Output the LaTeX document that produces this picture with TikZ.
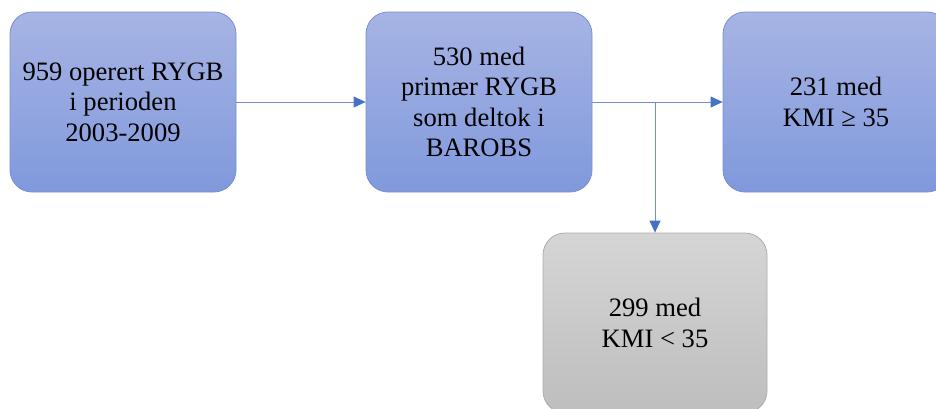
\documentclass[tikz,border=0pt]{standalone}
\usepackage{fontspec}
\setmainfont{Liberation Serif}
\usetikzlibrary{arrows.meta}
\definecolor{bluetop}{RGB}{167,180,228}
\definecolor{bluebot}{RGB}{128,153,220}
\definecolor{blueedge}{RGB}{118,144,214}
\definecolor{graytop}{RGB}{213,213,213}
\definecolor{graybot}{RGB}{190,190,190}
\definecolor{grayedge}{RGB}{172,172,172}
\definecolor{arrowblue}{RGB}{68,114,196}
\definecolor{lineblue}{RGB}{112,142,210}
\begin{document}
\begin{tikzpicture}[x=1pt,y=-1pt,
  box/.style={rounded corners=22pt, minimum width=226pt, minimum height=180pt,
    align=center, font=\fontsize{26.6}{30.5}\selectfont, inner sep=0pt, line width=0.8pt},
  bluebox/.style={box, draw=blueedge, top color=bluetop, bottom color=bluebot},
  graybox/.style={box, draw=grayedge, top color=graytop, bottom color=graybot},
  conn/.style={draw=lineblue, line width=1pt,
    -{Triangle[length=12pt,width=11pt,color=arrowblue]}}]
\useasboundingbox (0,0) rectangle (936,408);
\clip (0,0) rectangle (936,408);
\node[bluebox] (b1) at (123,102) {959 operert RYGB\\i perioden\\2003-2009};
\node[bluebox] (b2) at (479,102) {530 med\\primær RYGB\\som deltok i\\BAROBS};
\node[bluebox] (b3) at (836,102) {231 med\\KMI ≥ 35};
\node[graybox, minimum width=224pt] (b4) at (655,323) {299 med\\KMI < 35};
\coordinate (j) at (b4.north |- b2.east);
\draw[conn] (b1.east) -- (b2.west);
\draw[conn] (b2.east) -- (b3.west);
\draw[conn] (j) -- (b4.north);
\end{tikzpicture}
\end{document}
